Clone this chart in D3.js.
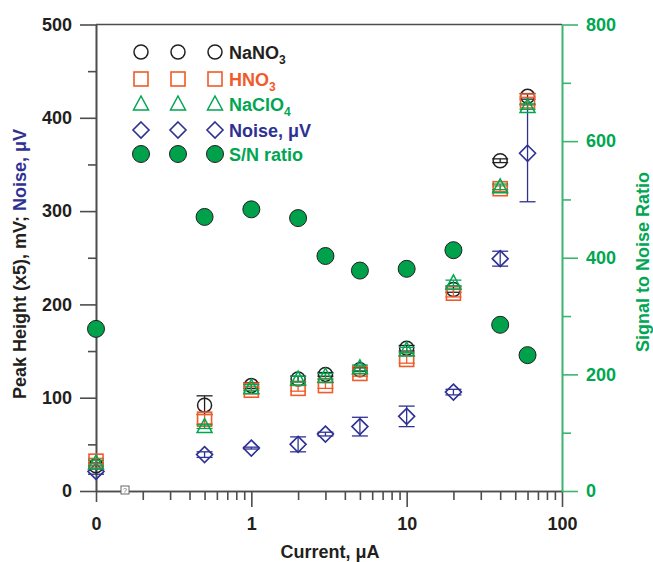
<!DOCTYPE html>
<html>
<head>
<meta charset="utf-8">
<script src="https://cdn.jsdelivr.net/npm/d3@7"></script>
<style>
  body { margin: 0; background: #fff; }
  svg text { font-family: "Liberation Sans", Arial, sans-serif; font-weight: bold; }
</style>
</head>
<body>
<div id="chart"></div>
<script>
// data (x = 0 is drawn at the 0.1 position of the log axis)
const current = [0, 0.5, 1, 2, 3, 5, 10, 20, 40, 60];
const nano3 = [27, 92, 113, 120, 125, 130, 153, 216, 354, 423];
const nano3Err = [3, 10, 3, 3, 2, 2, 3, 3, 2, 3];
const hno3 = [32, 77, 108, 110, 113, 126, 141, 212, 324, 418];
const hno3Err = [3, 5, 4, 3, 3, 3, 4, 4, 3, 4];
const naclo4 = [30, 69, 111, 120, 123, 132, 151, 223, 326, 412];
const naclo4Err = [3, 2, 3, 3, 3, 3, 3, 3, 3, 3];
const noise = [21, 39, 46, 50, 61, 69, 80, 106, 249, 362];
const noiseErr = [3, 3, 1, 8, 2, 10, 11, 3, 8, 52];
const snRatio = [278, 470, 483, 468, 403, 378, 381, 413, 285, 233];

const xMajor = [0.1, 1, 10, 100];
const xMinor = [0.2,0.3,0.4,0.5,0.6,0.7,0.8,0.9,2,3,4,5,6,7,8,9,20,30,40,50,60,70,80,90];
const yMajor = [0, 100, 200, 300, 400, 500];
const yMinor = [50, 150, 250, 350, 450];
const y2Major = [0, 200, 400, 600, 800];
const y2Minor = [100, 300, 500, 700];

const black = '#231f20', orange = '#f15a29', green = '#00a651', blue = '#2e3192', axisCol = '#4d4d4d';

const W = 653, H = 562;
const svg = d3.select('#chart').append('svg').attr('width', W).attr('height', H);

const x = d3.scaleLog().domain([0.1, 100]).range([96, 562]);
const y = d3.scaleLinear().domain([0, 500]).range([491, 24.5]);
const y2 = d3.scaleLinear().domain([0, 800]).range([491, 24.5]);
const xPos = c => x(c === 0 ? 0.1 : c);

function styleAxis(g, col) {
  g.attr('font-size', 18).attr('font-family', null).style('color', col);
  g.selectAll('line, path').attr('stroke-width', 1.6);
}

// bottom axis
svg.append('g').attr('transform', 'translate(0,491)')
  .call(d3.axisBottom(x).tickValues(xMinor).tickSize(9).tickFormat('').tickSizeOuter(0))
  .call(g => styleAxis(g, axisCol));
svg.append('g').attr('transform', 'translate(0,491)')
  .call(d3.axisBottom(x).tickValues(xMajor).tickSize(16).tickPadding(10).tickSizeOuter(0)
    .tickFormat(d => d === 0.1 ? '0' : d3.format('d')(d)))
  .call(g => styleAxis(g, axisCol))
  .call(g => g.selectAll('.tick').filter(d => d === 0.1).select('line').attr('y2', 11))
  .call(g => g.selectAll('text').style('fill', black));

// left axis
svg.append('g').attr('transform', 'translate(96,0)')
  .call(d3.axisLeft(y).tickValues(yMinor).tickSize(8).tickFormat('').tickSizeOuter(0))
  .call(g => styleAxis(g, axisCol));
svg.append('g').attr('transform', 'translate(96,0)')
  .call(d3.axisLeft(y).tickValues(yMajor).tickSize(16).tickPadding(8).tickSizeOuter(0))
  .call(g => styleAxis(g, axisCol))
  .call(g => g.selectAll('text').style('fill', black));

// top frame
svg.append('line').attr('x1', 96).attr('x2', 562).attr('y1', y(500)).attr('y2', y(500))
  .attr('stroke', axisCol).attr('stroke-width', 1.6);

// right axis
svg.append('g').attr('transform', 'translate(562,0)')
  .call(d3.axisRight(y2).tickValues(y2Minor).tickSize(9).tickFormat('').tickSizeOuter(0))
  .call(g => styleAxis(g, '#3cb46e'));
svg.append('g').attr('transform', 'translate(562,0)')
  .call(d3.axisRight(y2).tickValues(y2Major).tickSize(16).tickPadding(8).tickSizeOuter(0))
  .call(g => styleAxis(g, '#3cb46e'))
  .call(g => g.selectAll('text').style('fill', green));

// broken axis mark
svg.append('rect').attr('x', 121).attr('y', 486).attr('width', 8).attr('height', 8)
  .attr('fill', '#fff').attr('stroke', '#666').attr('stroke-width', 1);
svg.append('text').attr('x', 125).attr('y', 493).attr('text-anchor', 'middle')
  .attr('font-size', 7).attr('fill', '#666').style('font-weight', 'normal').text('?');

// axis titles
svg.append('text').attr('x', 330).attr('y', 558).attr('text-anchor', 'middle')
  .attr('font-size', 18).attr('fill', black).text('Current, μA');
const lt = svg.append('text').attr('transform', 'translate(26,264) rotate(-90)')
  .attr('text-anchor', 'middle').attr('font-size', 18).style('white-space', 'pre');
lt.append('tspan').attr('fill', black).text('Peak Height (x5), mV; ');
lt.append('tspan').attr('fill', blue).text('Noise, μV');
svg.append('text').attr('transform', 'translate(649,262) rotate(-90)')
  .attr('text-anchor', 'middle').attr('font-size', 18).attr('fill', green).text('Signal to Noise Ratio');

// markers
function marker(g, type, cx, cy, col) {
  if (type === 'circle') {
    g.append('circle').attr('cx', cx).attr('cy', cy).attr('r', 7)
      .attr('fill', 'none').attr('stroke', col).attr('stroke-width', 1.5);
  } else if (type === 'filled') {
    g.append('circle').attr('cx', cx).attr('cy', cy).attr('r', 8.5)
      .attr('fill', '#00a14b').attr('stroke', black).attr('stroke-width', 1);
  } else if (type === 'square') {
    g.append('rect').attr('x', cx - 7).attr('y', cy - 7).attr('width', 14).attr('height', 14)
      .attr('fill', 'none').attr('stroke', col).attr('stroke-width', 1.6);
  } else if (type === 'triangle') {
    g.append('path').attr('d', `M${cx},${cy - 8}L${cx + 7.5},${cy + 6}L${cx - 7.5},${cy + 6}Z`)
      .attr('fill', 'none').attr('stroke', col).attr('stroke-width', 1.5);
  } else if (type === 'diamond') {
    g.append('path').attr('d', `M${cx},${cy - 8}L${cx + 8},${cy}L${cx},${cy + 8}L${cx - 8},${cy}Z`)
      .attr('fill', 'none').attr('stroke', col).attr('stroke-width', 1.6);
  }
}

function errorBars(vals, errs, col) {
  const g = svg.append('g').attr('stroke', col).attr('stroke-width', 1.3);
  current.forEach((c, i) => {
    const cx = xPos(c), lo = y(vals[i] - errs[i]), hi = y(vals[i] + errs[i]);
    g.append('line').attr('x1', cx).attr('x2', cx).attr('y1', lo).attr('y2', hi);
    g.append('line').attr('x1', cx - 8).attr('x2', cx + 8).attr('y1', lo).attr('y2', lo);
    g.append('line').attr('x1', cx - 8).attr('x2', cx + 8).attr('y1', hi).attr('y2', hi);
  });
}

const plot = svg.append('g');
current.forEach((c, i) => marker(plot, 'filled', xPos(c), y2(snRatio[i]), green));

const series = [
  {vals: noise, errs: noiseErr, type: 'diamond', col: blue},
  {vals: nano3, errs: nano3Err, type: 'circle', col: black},
  {vals: hno3, errs: hno3Err, type: 'square', col: orange},
  {vals: naclo4, errs: naclo4Err, type: 'triangle', col: '#00a651'}
];
series.forEach(s => {
  errorBars(s.vals, s.errs, s.col);
  const g = svg.append('g');
  current.forEach((c, i) => marker(g, s.type, xPos(c), y(s.vals[i]), s.col));
});

// legend
const legendItems = [
  {type: 'circle', col: black, text: 'NaNO', sub: '3'},
  {type: 'square', col: orange, text: 'HNO', sub: '3'},
  {type: 'triangle', col: '#00a651', text: 'NaClO', sub: '4'},
  {type: 'diamond', col: blue, text: 'Noise, μV'},
  {type: 'filled', col: green, text: 'S/N ratio'}
];
const legendY = [52, 79, 104, 130, 154];
const lg = svg.append('g');
legendItems.forEach((d, i) => {
  [141, 178, 215].forEach(mx => marker(lg, d.type, mx, legendY[i], d.col));
  const t = lg.append('text').attr('x', 229).attr('y', legendY[i] + 6.5)
    .attr('font-size', 18).attr('fill', d.col);
  t.append('tspan').text(d.text);
  if (d.sub) t.append('tspan').attr('font-size', 12).attr('dy', 5).text(d.sub);
});
</script>
</body>
</html>
